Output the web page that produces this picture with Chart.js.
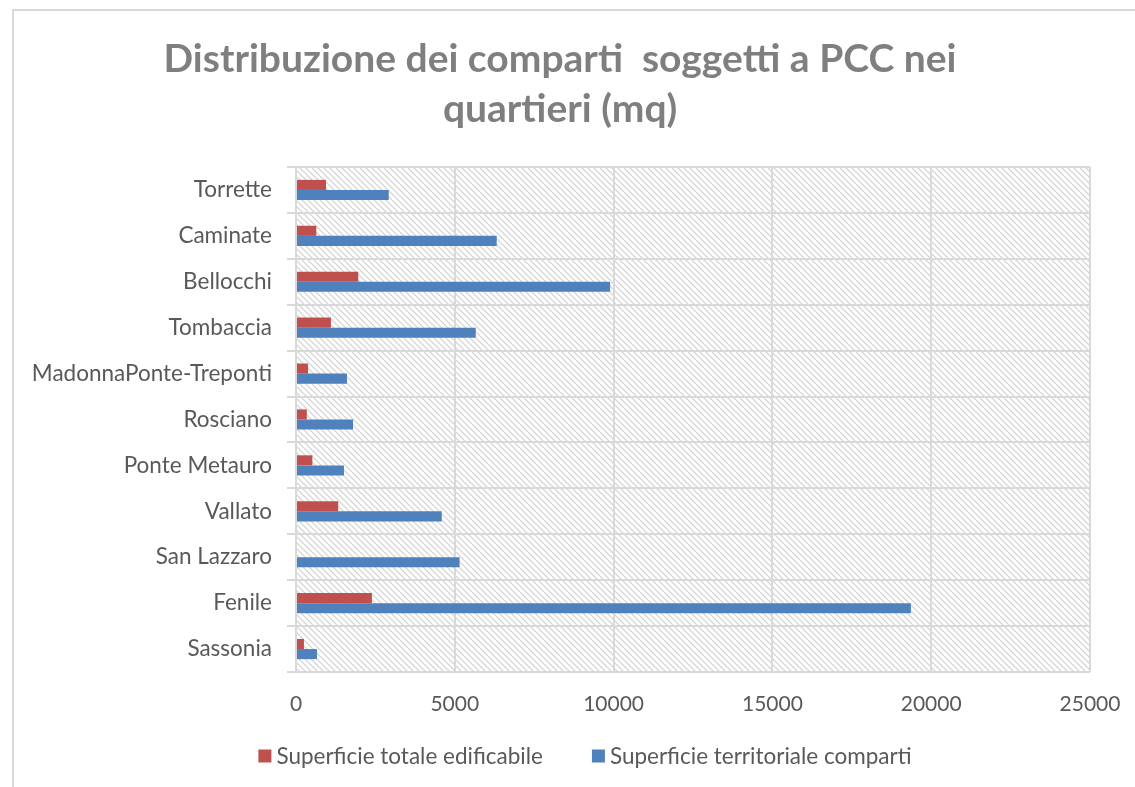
<!DOCTYPE html>
<html>
<head>
<meta charset="utf-8">
<script src="https://cdn.jsdelivr.net/npm/chart.js@4.4.0/dist/chart.umd.min.js"></script>
<style>
  html, body { margin: 0; padding: 0; background: #ffffff; }
  #wrap { width: 1135px; height: 787px; position: relative; }
</style>
</head>
<body>
<div id="wrap"><canvas id="chart" width="1135" height="787"></canvas></div>
<script>
// Quartieri, top to bottom
const quartieri = [
  'Torrette', 'Caminate', 'Bellocchi', 'Tombaccia', 'MadonnaPonte-Treponti',
  'Rosciano', 'Ponte Metauro', 'Vallato', 'San Lazzaro', 'Fenile', 'Sassonia'
];
// Superficie totale edificabile (mq)
const superficieEdificabile = [945, 640, 1960, 1100, 380, 340, 515, 1330, 0, 2390, 250];
// Superficie territoriale comparti (mq)
const superficieTerritoriale = [2920, 6320, 9890, 5660, 1605, 1795, 1510, 4590, 5150, 19360, 660];

const xTicks = [0, 5000, 10000, 15000, 20000, 25000];
const titleLines = ['Distribuzione dei comparti  soggetti a PCC nei', 'quartieri (mq)'];
const seriesNames = ['Superficie totale edificabile', 'Superficie territoriale comparti'];
const seriesColors = ['#c0504d', '#4f81bd'];

const FONT = 'Lato, Carlito, Calibri, sans-serif';
const GRID = '#d9d9d9';
const LABEL = '#595959';

Chart.defaults.font.family = FONT;

// Small tile of light downward diagonals used to fill the plot area
function makeHatch() {
  const t = document.createElement('canvas');
  t.width = 6; t.height = 6;
  const g = t.getContext('2d');
  g.fillStyle = '#ffffff';
  g.fillRect(0, 0, 6, 6);
  g.strokeStyle = '#d6d6d6';
  g.lineWidth = 1.3;
  g.beginPath();
  g.moveTo(-1, -1); g.lineTo(7, 7);
  g.moveTo(-1, 5);  g.lineTo(1, 7);
  g.moveTo(5, -1);  g.lineTo(7, 1);
  g.stroke();
  return t;
}

// Outer frame of the chart and hatched plot background
const plotBackdrop = {
  id: 'plotBackdrop',
  beforeDraw(chart) {
    const { ctx, chartArea: a } = chart;
    ctx.save();
    ctx.strokeStyle = GRID;
    ctx.lineWidth = 2;
    ctx.strokeRect(13, 10, chart.width + 20, chart.height + 20);
    ctx.fillStyle = ctx.createPattern(makeHatch(), 'repeat');
    ctx.fillRect(a.left, a.top, a.right - a.left, a.bottom - a.top);
    ctx.restore();
  }
};

// Nudge the title block so it sits centred over the whole frame
const titleNudge = {
  id: 'titleNudge',
  afterLayout(chart, args, opts) {
    const t = chart.titleBlock;
    if (t) { t.left += opts.dx; t.right += opts.dx; }
  }
};

// Series key drawn under the axis
const seriesKey = {
  id: 'seriesKey',
  afterDraw(chart, args, o) {
    const ctx = chart.ctx;
    const ds = chart.data.datasets;
    ctx.save();
    ctx.font = o.font;
    ctx.textBaseline = 'middle';
    ctx.textAlign = 'left';
    const widths = ds.map(d => o.box + o.gap + ctx.measureText(d.label).width);
    const total = widths.reduce((s, w) => s + w, 0) + o.spacing * (ds.length - 1);
    let x = o.centerX - total / 2;
    const y = chart.chartArea.bottom + o.offsetY;
    ds.forEach((d, i) => {
      ctx.fillStyle = d.backgroundColor;
      ctx.fillRect(x, y - o.box / 2, o.box, o.box);
      ctx.fillStyle = o.color;
      ctx.fillText(d.label, x + o.box + o.gap, y + 1);
      x += widths[i] + o.spacing;
    });
    ctx.restore();
  }
};

new Chart(document.getElementById('chart'), {
  type: 'bar',
  data: {
    labels: quartieri,
    datasets: [
      {
        label: seriesNames[0],
        data: superficieEdificabile,
        backgroundColor: seriesColors[0],
        borderWidth: 0,
        categoryPercentage: 0.44,
        barPercentage: 1.0
      },
      {
        label: seriesNames[1],
        data: superficieTerritoriale,
        backgroundColor: seriesColors[1],
        borderWidth: 0,
        categoryPercentage: 0.44,
        barPercentage: 1.0
      }
    ]
  },
  options: {
    indexAxis: 'y',
    responsive: false,
    animation: false,
    layout: { padding: { left: 14, right: 45, top: 8, bottom: 65 } },
    scales: {
      x: {
        min: 0,
        max: 25000,
        afterBuildTicks(s) { s.ticks = xTicks.map(v => ({ value: v })); },
        ticks: {
          color: LABEL,
          font: { size: 21 },
          padding: 0,
          maxRotation: 0,
          callback: v => String(v)
        },
        // invisible tick marks keep the labels clear of the plot bottom
        grid: { color: GRID, lineWidth: 2, drawTicks: true, tickLength: 20, tickColor: 'rgba(0,0,0,0)' },
        border: { display: false },
        afterFit(s) { s.height = 50; }
      },
      y: {
        offset: true,
        grid: { offset: true, color: GRID, lineWidth: 2, drawTicks: true, tickLength: 9 },
        border: { display: false },
        ticks: { color: LABEL, font: { size: 22.5 }, padding: 15 },
        afterFit(s) { s.width = 282; }
      }
    },
    plugins: {
      legend: { display: false },
      tooltip: { enabled: false },
      title: {
        display: true,
        text: titleLines,
        color: '#7f7f7f',
        font: { size: 39, weight: 'bold', lineHeight: 50 / 39 },
        padding: { top: 26, bottom: 33 }
      },
      titleNudge: { dx: 8 },
      seriesKey: {
        font: '22.5px ' + FONT,
        color: LABEL,
        box: 13,
        gap: 5,
        spacing: 49,
        centerX: 585,
        offsetY: 84
      }
    }
  },
  plugins: [plotBackdrop, titleNudge, seriesKey]
});
</script>
</body>
</html>
